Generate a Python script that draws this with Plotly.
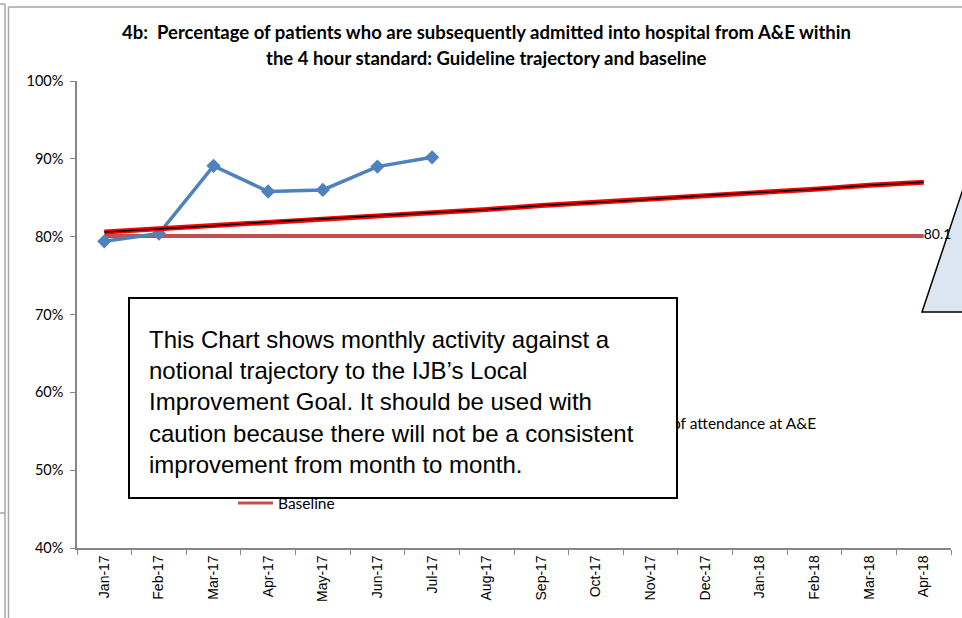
import plotly.graph_objects as go

months = ["Jan-17", "Feb-17", "Mar-17", "Apr-17", "May-17", "Jun-17", "Jul-17", "Aug-17",
          "Sep-17", "Oct-17", "Nov-17", "Dec-17", "Jan-18", "Feb-18", "Mar-18", "Apr-18"]
actual = [79.4, 80.4, 89.1, 85.8, 86.0, 89.0, 90.2]
trajectory = [80.6, 81.0, 81.4, 81.9, 82.3, 82.7, 83.1, 83.5, 84.0, 84.4, 84.8, 85.3, 85.7, 86.1, 86.6, 87.0]
baseline = [80.1] * 16
baseline_label = ["" for _ in range(15)] + ["80.1"]
y_ticks = [40, 50, 60, 70, 80, 90, 100]
y_tick_text = ["40%", "50%", "60%", "70%", "80%", "90%", "100%"]

W, H = 962, 618
L, R, T, B = 77, 951, 81, 548


def px(x):
    return (x - L) / (R - L)


def py(y):
    return (B - y) / (B - T)


fig = go.Figure()
fig.add_trace(go.Scatter(x=months, y=baseline, mode="lines+text", name="Baseline",
                         line=dict(color="#C0504D", width=4),
                         text=baseline_label, textposition="middle right",
                         textfont=dict(family="Lato, sans-serif", size=14, color="#000000"),
                         cliponaxis=False))
fig.add_trace(go.Scatter(x=months[:len(actual)], y=actual, mode="lines+markers", name="Actual",
                         line=dict(color="#4F81BD", width=3.5),
                         marker=dict(symbol="diamond", size=11, color="#4F81BD")))
fig.add_trace(go.Scatter(x=months, y=trajectory, mode="lines", name="Trajectory",
                         line=dict(color="#FF0000", width=5)))
fig.add_trace(go.Scatter(x=months, y=trajectory, mode="lines", name="Trend",
                         line=dict(color="#000000", width=1.5)))

gray = "#A6A6A6"
shapes = [
    # outer frame lines
    dict(type="line", xref="paper", yref="paper", x0=px(5), x1=px(5), y0=py(4), y1=py(618), line=dict(color=gray, width=1.5)),
    dict(type="line", xref="paper", yref="paper", x0=px(0), x1=px(5), y0=py(4), y1=py(4), line=dict(color=gray, width=1.5)),
    dict(type="line", xref="paper", yref="paper", x0=px(0), x1=px(5), y0=py(513), y1=py(513), line=dict(color=gray, width=1.5)),
    dict(type="line", xref="paper", yref="paper", x0=px(8.5), x1=px(8.5), y0=py(7), y1=py(618), line=dict(color=gray, width=1.5)),
    dict(type="line", xref="paper", yref="paper", x0=px(8.5), x1=px(962), y0=py(7), y1=py(7), line=dict(color=gray, width=1.5)),
    # callout triangle on the right (below the data label)
    dict(type="path", xref="paper", yref="paper", layer="below",
         path=f"M {px(922)} {py(312)} L {px(964)} {py(186)} L {px(975)} {py(312)} Z",
         fillcolor="#DCE6F2", line=dict(color="#000000", width=1.5)),
    # legend key for Baseline
    dict(type="line", xref="paper", yref="paper", x0=px(238), x1=px(273), y0=py(503), y1=py(503),
         line=dict(color="#C0504D", width=3)),
]

title_font = dict(family="Lato, sans-serif", size=18.5, color="#000000")
legend_font = dict(family="Lato, sans-serif", size=15.5, color="#000000")
annotations = [
    dict(text="<b>4b:  Percentage of patients who are subsequently admitted into hospital from A&E within</b>",
         xref="paper", yref="paper", x=px(486), y=py(32), xanchor="center", yanchor="middle",
         showarrow=False, font=title_font),
    dict(text="<b>the 4 hour standard: Guideline trajectory and baseline</b>",
         xref="paper", yref="paper", x=px(486), y=py(58), xanchor="center", yanchor="middle",
         showarrow=False, font=title_font),
    dict(text="of attendance at A&E", xref="paper", yref="paper", x=px(818), y=py(423),
         xanchor="right", yanchor="middle", showarrow=False, font=legend_font),
    dict(text="Baseline", xref="paper", yref="paper", x=px(276), y=py(503),
         xanchor="left", yanchor="middle", showarrow=False, font=legend_font),
    # text box
    dict(text=" ", xref="paper", yref="paper", x=px(128), y=py(297), xanchor="left", yanchor="top",
         width=546, height=198, borderpad=0, bgcolor="#FFFFFF", bordercolor="#000000", borderwidth=2,
         showarrow=False),
    dict(text=("This Chart shows monthly activity against a<br>"
               "notional trajectory to the IJB\u2019s Local<br>"
               "Improvement Goal. It should be used with<br>"
               "caution because there will not be a consistent<br>"
               "improvement from month to month."),
         xref="paper", yref="paper", x=px(147), y=py(402), xanchor="left", yanchor="middle",
         align="left", showarrow=False,
         font=dict(family="Liberation Sans, Arial, sans-serif", size=24, color="#000000")),
]

fig.update_layout(
    width=W, height=H,
    margin=dict(l=L, r=W - R, t=T, b=H - B),
    paper_bgcolor="#FFFFFF", plot_bgcolor="rgba(0,0,0,0)",
    showlegend=False,
    shapes=shapes,
    annotations=annotations,
    xaxis=dict(type="category", categoryorder="array", categoryarray=months,
               range=[-0.5, 15.5], showgrid=False, zeroline=False,
               showline=True, linecolor="#868686", linewidth=1.5,
               ticks="outside", tickson="boundaries", ticklen=5, tickcolor="#868686",
               tickangle=-90,
               tickfont=dict(family="Liberation Sans, Arial, sans-serif", size=14, color="#000000")),
    yaxis=dict(range=[40, 100], tickmode="array", tickvals=y_ticks, ticktext=y_tick_text,
               showgrid=False, zeroline=False,
               showline=True, linecolor="#868686", linewidth=1.5,
               ticks="outside", ticklen=5, tickcolor="#868686", ticklabelstandoff=4,
               tickfont=dict(family="Lato, sans-serif", size=14.5, color="#000000")),
)

fig.write_html("out.html", config={"displayModeBar": False},
               post_script="document.body.style.margin='0';document.body.style.padding='0';document.body.style.overflow='hidden';")
